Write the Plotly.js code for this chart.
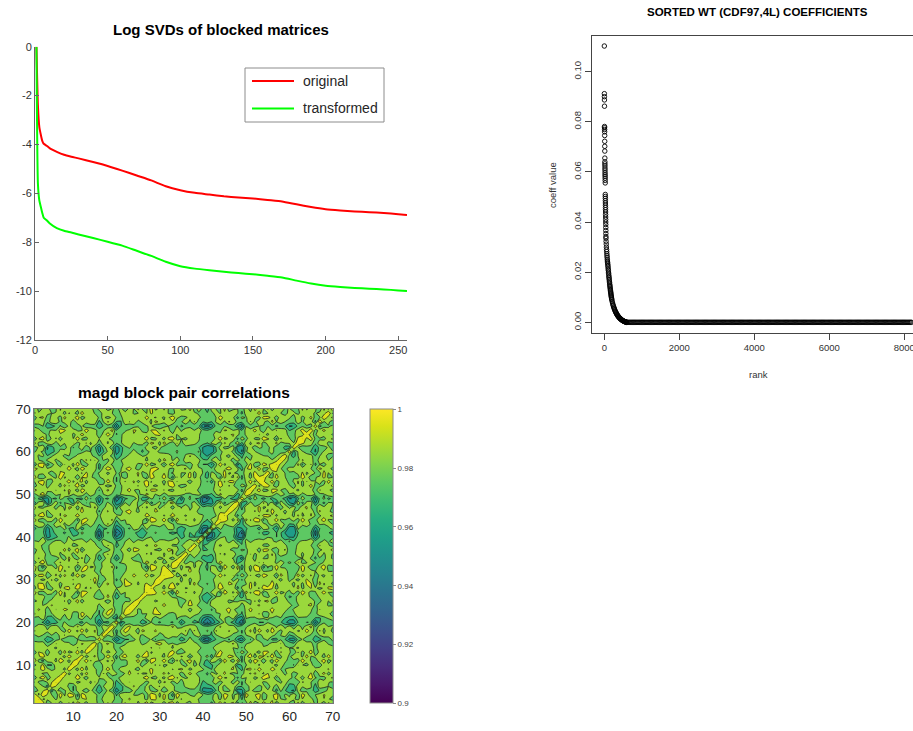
<!DOCTYPE html>
<html><head><meta charset="utf-8">
<script src="https://cdn.plot.ly/plotly-3.0.1.min.js"></script>
<style>html,body{margin:0;padding:0;background:#fff}#chart{width:913px;height:731px}</style>
</head><body><div id="chart"></div>
<script>
// ---------- Panel 1: Log SVDs of blocked matrices ----------
const svdIndex = [1,2,3,4,5,6,8,10,15,20,25,30,40,50,60,70,80,90,100,110,120,130,140,150,160,170,180,190,200,210,220,230,240,250,256];
const svdOriginal = [0,-2.4,-3.3,-3.6,-3.85,-3.97,-4.05,-4.15,-4.3,-4.42,-4.5,-4.57,-4.72,-4.88,-5.07,-5.27,-5.47,-5.71,-5.87,-5.98,-6.05,-6.12,-6.17,-6.21,-6.27,-6.33,-6.45,-6.56,-6.65,-6.7,-6.74,-6.77,-6.8,-6.85,-6.89];
const svdTransformed = [0,-5.6,-6.3,-6.55,-6.8,-7.0,-7.1,-7.22,-7.42,-7.53,-7.6,-7.68,-7.83,-7.98,-8.14,-8.35,-8.56,-8.8,-8.98,-9.08,-9.15,-9.21,-9.26,-9.31,-9.37,-9.44,-9.57,-9.69,-9.78,-9.83,-9.87,-9.9,-9.93,-9.97,-10.0];
const svdTicksX = [0,50,100,150,200,250];
const svdTicksY = [0,-2,-4,-6,-8,-10,-12];
const svdTickText = ['0','-2','-4','-6','-8','-10','-12'];

// ---------- Panel 2: sorted wavelet coefficients ----------
const headValue = [0.1102,0.0912,0.0900,0.0887,0.0862,0.0781,0.0776,0.0769,0.0760,0.0745,
  0.0722,0.0702,0.0683,0.0655,0.0640,0.0632,0.0624,0.0615,0.0607,0.0598,
  0.0590,0.0583,0.0575,0.0566,0.0556,0.0510,0.0502,0.0494,0.0485,0.0476,
  0.0467,0.0458,0.0449,0.0440,0.0430,0.0420,0.0410,0.0400,0.0390,0.0378,
  0.0366,0.0354,0.0342];
const decayRank = [44,48,52,56,60,64,68,72,76,80,84,88,92,96,100,104,108,112,116,120,124,128,132,136,140,144,148,152,156,160,164,168,172,176,180,184,188,192,196,200,
  210,220,230,240,250,260,270,280,290,300,310,320,330,340,350,360,370,380,390,400,410,420,430,440,450,460,470,480,490,500,510,520,530,540,550,560,570,580,590,600];
const decayValue = [.0335,.0323,.0312,.0300,.0290,.0282,.0273,.0265,.0258,.0250,.0244,.0238,.0232,.0226,.0220,.0213,.0207,.0200,.0194,.0187,.0181,.0176,.0170,.0164,.0158,.0152,.0147,.0142,.0137,.0132,.0127,.0122,.0118,.0114,.0109,.0105,.0101,.0097,.0093,.0090,
  .0083,.0077,.0071,.0066,.0061,.0057,.0053,.0049,.0045,.0042,.0039,.0036,.0033,.0031,.0028,.0026,.0024,.0022,.0020,.0018,.0017,.0015,.0014,.0013,.0011,.0010,.0009,.0008,.0007,.0006,.0005,.0004,.0004,.0003,.0002,.0002,.0001,.0001,0,0];
const tailStart = 600, tailEnd = 8192, tailStep = 30, tailValue = 0;   // coefficients beyond rank ~600 are ~0
const coefTicksX = [0,2000,4000,6000,8000];
const coefTicksY = [0,0.02,0.04,0.06,0.08,0.10];
const coefTickText = ['0.00','0.02','0.04','0.06','0.08','0.10'];

// ---------- Panel 3: block pair correlation matrix (70 x 70) ----------
// per-block weakness (x1e-3)
const blockWeak = [8.0,7.5,8.0,13.9,10.0,9.0,7.5,7.0,7.5,9.5,
  7.0,7.5,7.0,7.5,8.5,15.9,10.0,7.5,8.5,18.9,
  13.9,8.5,7.0,6.5,7.5,9.5,7.5,6.0,6.5,7.5,
  7.0,7.5,8.5,9.0,11.9,8.5,7.5,8.5,10.0,17.9,
  19.9,15.9,10.0,7.5,6.5,7.5,8.5,13.9,17.9,9.5,
  7.5,7.0,7.5,8.5,7.5,7.0,9.5,7.5,10.0,13.9,
  14.9,8.5,7.5,7.0,7.5,15.9,9.0,7.5,9.0,8.5];
// per-block defect strength (dark spots where two defective blocks meet)
const blockDefect = [0,0,0,.8,.3,0,0,0,0,.3,
  0,0,0,0,0,.9,0,0,0,1,
  .7,0,0,0,0,.3,0,0,0,0,
  0,0,0,0,.5,0,0,0,.3,.9,
  1,.8,.3,0,0,0,0,.7,1,0,
  0,0,0,0,0,0,.3,0,.4,.7,
  .8,0,0,0,0,.9,0,0,0,0];
// per-block texture profiles (estimated from the contour texture)
const texA = [0.3,0.6,0.2,-0.4,-0.7,-0.2,0.5,0.8,0.4,-0.3,
  -0.6,0.1,0.7,0.3,-0.5,-0.8,-0.1,0.6,0.9,0.2,
  -0.4,-0.2,0.5,0.3,-0.6,-0.9,-0.3,0.4,0.8,0.5,
  -0.2,-0.7,-0.4,0.3,0.6,0.1,-0.5,-0.3,0.4,0.7,
  0.2,-0.6,-0.8,-0.1,0.5,0.9,0.3,-0.4,-0.6,0.2,
  0.7,0.4,-0.3,-0.7,-0.2,0.6,0.8,0.1,-0.5,-0.4,
  0.3,0.6,0.2,-0.6,-0.9,-0.3,0.4,0.7,0.3,-0.2];
const texB = [-0.5,0.1,0.7,0.4,-0.2,-0.8,-0.5,0.2,0.6,0.9,
  0.3,-0.4,-0.6,0.0,0.5,0.2,-0.3,-0.7,-0.2,0.4,
  0.8,0.6,-0.1,-0.5,-0.3,0.3,0.7,0.2,-0.6,-0.9,
  -0.4,0.2,0.5,0.8,0.1,-0.3,-0.7,-0.4,0.3,0.6,
  0.0,-0.5,0.2,0.7,0.4,-0.2,-0.6,-0.8,-0.1,0.5,
  0.3,-0.4,-0.2,0.6,0.9,0.4,-0.3,-0.6,0.1,0.5,
  0.7,-0.2,-0.5,-0.1,0.4,0.2,-0.6,-0.3,0.5,0.8];
const texC = [0.8,-0.3,-0.6,0.4,0.7,-0.5,0.2,-0.7,0.5,0.3,
  -0.8,0.6,-0.2,-0.4,0.9,-0.1,-0.6,0.5,0.2,-0.9,
  0.4,0.7,-0.3,0.1,-0.5,0.8,-0.4,-0.2,0.6,-0.7,
  0.3,0.5,-0.6,0.2,-0.1,0.7,-0.8,0.4,0.1,-0.5,
  0.6,-0.3,0.8,-0.6,-0.2,0.5,-0.4,0.9,-0.7,0.3,
  0.2,-0.5,0.7,-0.2,-0.6,0.4,0.1,-0.8,0.6,-0.3,
  0.5,-0.7,0.2,0.8,-0.4,-0.1,0.6,-0.5,0.3,-0.6];
const texD = [-0.2,0.5,0.9,-0.4,0.1,0.6,-0.7,-0.3,0.4,-0.6,
  0.2,0.8,-0.5,0.3,-0.1,-0.8,0.5,0.7,-0.3,0.2,
  -0.6,0.4,0.9,-0.2,-0.7,0.1,0.6,-0.4,0.3,0.8,
  -0.5,-0.2,0.7,-0.6,0.4,0.1,-0.3,0.6,-0.8,0.2,
  0.5,-0.4,-0.1,0.7,-0.5,0.3,0.8,-0.6,0.2,-0.3,
  0.6,-0.7,0.4,0.1,-0.5,0.9,-0.2,0.3,-0.6,0.7,
  -0.1,0.4,-0.8,0.2,0.5,-0.3,0.6,-0.4,0.1,-0.7];
const texE = [0.5,-0.6,0.2,0.7,-0.4,-0.1,0.6,-0.8,0.3,0.4,
  -0.5,0.8,-0.3,0.1,-0.7,0.5,0.6,-0.2,-0.6,0.3,
  0.7,-0.5,0.1,-0.8,0.4,0.2,-0.3,0.9,-0.6,0.1,
  0.5,-0.4,-0.7,0.6,0.3,-0.2,0.8,-0.5,-0.1,0.4,
  -0.6,0.7,0.2,-0.4,0.5,-0.8,0.1,0.3,-0.2,0.6,
  -0.7,0.4,0.8,-0.3,0.2,-0.5,0.6,-0.1,-0.4,0.7,
  0.3,-0.6,0.5,-0.2,0.1,0.8,-0.7,0.4,-0.3,0.2];
const texF = [-0.4,0.3,0.8,-0.2,-0.6,0.5,0.1,-0.3,0.7,-0.5,
  0.2,0.6,-0.8,0.4,-0.1,0.3,-0.6,0.9,-0.2,-0.4,
  0.5,0.1,-0.7,0.6,-0.3,0.2,0.8,-0.5,-0.1,0.4,
  -0.8,0.6,0.3,-0.4,0.7,-0.2,-0.5,0.1,0.6,-0.3,
  0.4,-0.7,0.2,0.5,-0.6,0.3,0.9,-0.4,0.1,-0.2,
  0.6,-0.5,-0.1,0.7,-0.3,0.4,-0.8,0.2,0.5,-0.6,
  0.1,0.7,-0.4,0.3,-0.5,0.6,-0.2,-0.7,0.8,0.2];
const corrTicks = [10,20,30,40,50,60,70];
const cbTicks = [0.9,0.92,0.94,0.96,0.98,1];
const cbTickText = ['0.9','0.92','0.94','0.96','0.98','1'];

// ---------- build ----------
const W = 913, H = 731;
const px = x => x / W, py = y => (H - y) / H;

const headRank = headValue.map((v, i) => i + 1);
const tailRank = [], tailVals = [];
for (let r = tailStart; r <= tailEnd; r += tailStep) { tailRank.push(r); tailVals.push(tailValue); }
const coefRank = headRank.concat(decayRank, tailRank);
const coefValue = headValue.concat(decayValue, tailVals);

const nB = blockWeak.length;
const blocks = blockWeak.map((v, i) => i + 1);
const sym = (a, b, i, j) => a[i] * b[j] + b[i] * a[j];
const corr = [];
for (let i = 0; i < nB; i++) {
  const row = [];
  for (let j = 0; j < nB; j++) {
    if (i === j) { row.push(1); continue; }
    let v = 1 - (blockWeak[i] + blockWeak[j]) * 1e-3
      - 0.019 * blockDefect[i] * blockDefect[j]
      + 0.0052 * sym(texA, texB, i, j)
      + 0.0072 * sym(texC, texD, i, j)
      + 0.0072 * sym(texE, texF, i, j)
      + 0.0058 * sym(texA, texD, i, j)
      + 0.0058 * sym(texC, texF, i, j)
      + 0.0058 * sym(texB, texE, i, j);
    row.push(Math.min(v, 0.998));
  }
  corr.push(row);
}

// Plotly samples each filled band at its mid level; viridis shifted half a band so that
// each band between two contour levels gets the colour of its centre value on the 0.9-1 colour bar
const contourScale = [[0,'#471365'],[0.0127,'#48186a'],[0.0755,'#472d7b'],[0.1382,'#424086'],[0.2010,'#3b528b'],
  [0.2637,'#33638d'],[0.3265,'#2c728e'],[0.3892,'#26828e'],[0.4520,'#21918c'],[0.5147,'#1fa088'],[0.5775,'#28ae80'],
  [0.6402,'#3fbc73'],[0.7029,'#5ec962'],[0.7657,'#84d44b'],[0.8284,'#addc30'],[0.8912,'#d8e219'],[0.95,'#fde725'],[1,'#fde725']];

const FONT = 'Liberation Sans, Arial, Helvetica, sans-serif';

const traces = [
  {type:'scatter', mode:'lines', x:svdIndex, y:svdOriginal, xaxis:'x', yaxis:'y', name:'original',
   line:{color:'#ff0000', width:2, shape:'spline', smoothing:0.5}, hoverinfo:'skip'},
  {type:'scatter', mode:'lines', x:svdIndex, y:svdTransformed, xaxis:'x', yaxis:'y', name:'transformed',
   line:{color:'#00ff00', width:2, shape:'spline', smoothing:0.5}, hoverinfo:'skip'},
  {type:'scatter', mode:'markers', x:coefRank, y:coefValue, xaxis:'x2', yaxis:'y2', name:'coefficients',
   marker:{symbol:'circle-open', size:4.5, color:'#000', line:{width:0.9, color:'#000'}}, hoverinfo:'skip'},
  {type:'contour', x:blocks, y:blocks, z:corr, xaxis:'x3', yaxis:'y3', colorscale:contourScale,
   autocontour:false, contours:{start:0.9099, end:0.9999, size:0.01, coloring:'fill', showlines:true},
   line:{color:'#1a1a1a', width:0.8, smoothing:0.3}, showscale:false, hoverinfo:'skip'},
  {type:'scatter', mode:'markers', x:[1,1], y:[1,1], xaxis:'x3', yaxis:'y3', hoverinfo:'skip',
   marker:{size:1, opacity:0, color:[0.9,1], colorscale:'Viridis', cmin:0.9, cmax:1, showscale:true,
     colorbar:{x:px(369.5), xanchor:'left', xpad:0, ypad:0, y:py(703.3), yanchor:'bottom',
       len:294/H, lenmode:'fraction', thickness:23, thicknessmode:'pixels',
       outlinecolor:'#8a8a8a', outlinewidth:1, tickvals:cbTicks, ticktext:cbTickText,
       ticks:'outside', ticklen:3, tickcolor:'#8a8a8a', tickfont:{size:8, color:'#444', family:FONT}}}}
];

const baseAxis = {showgrid:false, zeroline:false, fixedrange:true, showline:true};
const layout = {
  width:W, height:H, margin:{l:0, r:0, t:0, b:0}, paper_bgcolor:'#fff', plot_bgcolor:'rgba(0,0,0,0)',
  showlegend:false, font:{family:FONT, color:'#262626'},
  xaxis:Object.assign({}, baseAxis, {domain:[px(35), px(407)], range:[0,256], anchor:'y', tickvals:svdTicksX,
    ticks:'inside', ticklen:4, tickcolor:'#666', linecolor:'#666', tickfont:{size:11, color:'#333'}}),
  yaxis:Object.assign({}, baseAxis, {domain:[py(340), py(46.7)], range:[-12,0], anchor:'x', tickvals:svdTicksY,
    ticktext:svdTickText, ticks:'inside', ticklen:4, tickcolor:'#666', linecolor:'#666', tickfont:{size:11, color:'#333'}}),
  xaxis2:Object.assign({}, baseAxis, {domain:[px(592), 1], range:[-328, 8232], anchor:'y2', tickvals:coefTicksX,
    ticks:'outside', ticklen:6, tickcolor:'#444', linecolor:'#444', mirror:true, ticklabeloverflow:'allow',
    tickfont:{size:9.5, color:'#333'}}),
  yaxis2:Object.assign({}, baseAxis, {domain:[py(333), py(36)], range:[-0.00427, 0.1142], anchor:'x2', tickvals:coefTicksY,
    ticktext:coefTickText, tickangle:-90, ticks:'outside', ticklen:6, tickcolor:'#444', linecolor:'#444', tickfont:{size:9.5, color:'#333'}}),
  xaxis3:Object.assign({}, baseAxis, {domain:[px(34.4), px(332.7)], range:[1,70], anchor:'y3', tickvals:corrTicks,
    ticks:'', mirror:true, linecolor:'#777', tickfont:{size:13.5, color:'#262626'}}),
  yaxis3:Object.assign({}, baseAxis, {domain:[py(703.4), py(409)], range:[1,70], anchor:'x3', tickvals:corrTicks,
    ticks:'', mirror:true, linecolor:'#777', tickfont:{size:13.5, color:'#262626'}}),
  shapes:[
    {type:'rect', xref:'paper', yref:'paper', x0:px(245), x1:px(384), y0:py(122), y1:py(68), line:{color:'#8c8c8c', width:1}, fillcolor:'#fff'},
    {type:'line', xref:'paper', yref:'paper', x0:px(252), x1:px(294), y0:py(81), y1:py(81), line:{color:'#ff0000', width:2}},
    {type:'line', xref:'paper', yref:'paper', x0:px(252), x1:px(294), y0:py(108.5), y1:py(108.5), line:{color:'#00ff00', width:2}}
  ],
  annotations:[
    {xref:'paper', yref:'paper', x:px(301), y:py(81), xanchor:'left', yanchor:'middle', showarrow:false, text:'original', font:{size:14, color:'#262626'}},
    {xref:'paper', yref:'paper', x:px(301), y:py(108.5), xanchor:'left', yanchor:'middle', showarrow:false, text:'transformed', font:{size:14, color:'#262626'}},
    {xref:'paper', yref:'paper', x:px(221), y:py(29.5), xanchor:'center', yanchor:'middle', showarrow:false, text:'<b>Log SVDs of blocked matrices</b>', font:{size:15, color:'#000'}},
    {xref:'paper', yref:'paper', x:px(183.5), y:py(392), xanchor:'center', yanchor:'middle', showarrow:false, text:'<b>magd block pair correlations</b>', font:{size:15.5, color:'#000'}},
    {xref:'paper', yref:'paper', x:px(757.8), y:py(12), xanchor:'center', yanchor:'middle', showarrow:false, text:'<b>SORTED WT (CDF97,4L) COEFFICIENTS</b>', font:{size:11.5, color:'#000'}},
    {xref:'paper', yref:'paper', x:px(758), y:py(374), xanchor:'center', yanchor:'middle', showarrow:false, text:'rank', font:{size:9.5, color:'#333'}},
    {xref:'paper', yref:'paper', x:px(552), y:py(185), xanchor:'center', yanchor:'middle', showarrow:false, textangle:-90, text:'coeff value', font:{size:9.5, color:'#333'}}
  ]
};

Plotly.newPlot('chart', traces, layout, {staticPlot:true, displayModeBar:false});
</script>
</body></html>
